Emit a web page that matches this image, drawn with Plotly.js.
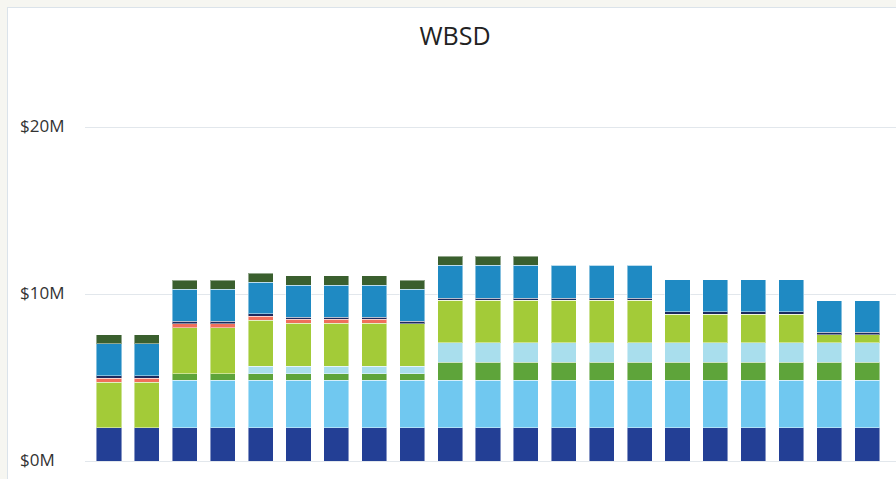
<!DOCTYPE html>
<html>
<head>
<meta charset="utf-8">
<script src="https://cdn.plot.ly/plotly-3.0.1.min.js"></script>
<style>
  html, body { margin:0; padding:0; width:896px; height:479px; overflow:hidden; background:#f6f6f1; }
  #card { position:absolute; left:7px; top:7px; width:1000px; height:600px; background:#ffffff; border:1px solid #dbe3ea; box-sizing:border-box; }
  #chart { position:absolute; left:0; top:0; width:896px; height:479px; }
</style>
</head>
<body>
<div id="card"></div>
<div id="chart"></div>
<script>
// Categories (x tick labels are cropped out of view in the reference)
const categories = ["1","2","3","4","5","6","7","8","9","10","11","12","13","14","15","16","17","18","19","20","21"];

// Series values in $ millions, bottom to top of each stack
const seriesNavy      = [2.0,2.0,2.0,2.0,2.0,2.0,2.0,2.0,2.0,2.0,2.0,2.0,2.0,2.0,2.0,2.0,2.0,2.0,2.0,2.0,2.0];
const seriesSky       = [0,0,2.84,2.84,2.84,2.84,2.84,2.84,2.84,2.84,2.84,2.84,2.84,2.84,2.84,2.84,2.84,2.84,2.84,2.84,2.84];
const seriesGreen     = [0,0,0.40,0.40,0.40,0.40,0.40,0.40,0.40,1.10,1.10,1.10,1.10,1.10,1.10,1.10,1.10,1.10,1.10,1.10,1.10];
const seriesPaleBlue  = [0,0,0,0,0.46,0.46,0.46,0.46,0.46,1.16,1.16,1.16,1.16,1.16,1.16,1.16,1.16,1.16,1.16,1.16,1.16];
const seriesLime      = [2.74,2.74,2.76,2.76,2.74,2.56,2.56,2.56,2.54,2.54,2.54,2.54,2.54,2.54,2.54,1.70,1.70,1.70,1.70,0.48,0.48];
const seriesSalmon    = [0.24,0.24,0.24,0.24,0.24,0.24,0.24,0.24,0,0,0,0,0,0,0,0,0,0,0,0,0];
const seriesDarkNavy  = [0.14,0.14,0.14,0.14,0.16,0.14,0.14,0.14,0.16,0.14,0.14,0.14,0.14,0.14,0.14,0.16,0.16,0.16,0.16,0.16,0.16];
const seriesBlue      = [1.92,1.92,1.92,1.92,1.90,1.92,1.92,1.92,1.92,1.96,1.96,1.96,1.96,1.96,1.96,1.92,1.92,1.92,1.92,1.88,1.88];
const seriesDarkGreen = [0.54,0.54,0.56,0.56,0.54,0.56,0.56,0.56,0.54,0.54,0.54,0.54,0,0,0,0,0,0,0,0,0];

const yTickVals  = [0, 10, 20];
const yTickTexts = ["$0M", "$10M", "$20M"];

const stack = [
  {vals: seriesNavy,      color: "#233f95"},
  {vals: seriesSky,       color: "#70c8f0"},
  {vals: seriesGreen,     color: "#5ea43a"},
  {vals: seriesPaleBlue,  color: "#a9deed"},
  {vals: seriesLime,      color: "#a3cb38"},
  {vals: seriesSalmon,    color: "#f06f5b"},
  {vals: seriesDarkNavy,  color: "#1c2a5e"},
  {vals: seriesBlue,      color: "#1f8ac3"},
  {vals: seriesDarkGreen, color: "#3a5f2e"}
];

const traces = stack.map(s => ({
  type: "bar",
  x: categories,
  y: s.vals.map(v => v * 1e6),
  marker: { color: s.color, line: { color: "rgba(255,255,255,0.45)", width: 1 } },
  hoverinfo: "skip"
}));

const annotations = yTickVals.map((v, i) => ({
  xref: "paper", yref: "y",
  x: (18 - 85) / 811, y: v * 1e6,
  xanchor: "left", yanchor: "middle", yshift: 2,
  text: yTickTexts[i], showarrow: false,
  font: { family: "Open Sans, sans-serif", size: 17, color: "#333333" }
}));

const layout = {
  width: 896, height: 479,
  margin: { l: 85, r: 0, t: 61, b: 18, pad: 0 },
  paper_bgcolor: "rgba(0,0,0,0)",
  plot_bgcolor: "#ffffff",
  barmode: "stack",
  bargap: 0.34,
  showlegend: false,
  title: {
    text: "WBSD",
    x: 455 / 896, xref: "container", xanchor: "center",
    y: 1 - 36 / 479, yref: "container", yanchor: "middle",
    font: { family: "Open Sans, sans-serif", size: 25, color: "#222222" }
  },
  xaxis: {
    type: "category",
    range: [-0.633, 20.765],
    showticklabels: false, showgrid: false, zeroline: false, showline: false, ticks: ""
  },
  yaxis: {
    range: [0, 24e6],
    tickvals: yTickVals.map(v => v * 1e6),
    showticklabels: false,
    showgrid: true, gridcolor: "#e2e7ec", gridwidth: 1,
    zeroline: true, zerolinecolor: "#e2e7ec", zerolinewidth: 1,
    showline: false, ticks: ""
  },
  annotations: annotations
};

Plotly.newPlot("chart", traces, layout, { displayModeBar: false, staticPlot: true });
</script>
</body>
</html>
